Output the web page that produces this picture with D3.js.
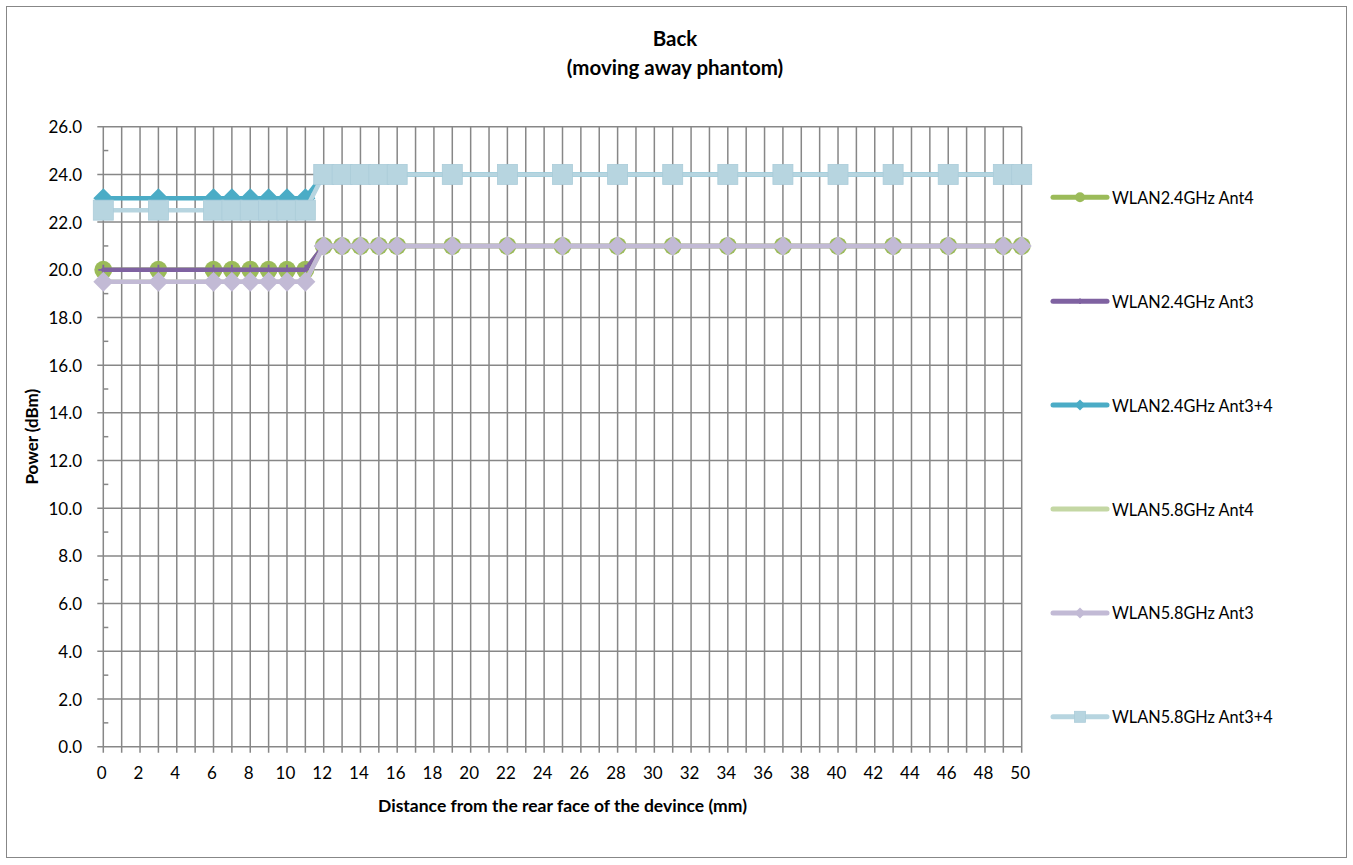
<!DOCTYPE html>
<html><head><meta charset="utf-8">
<script src="https://cdn.jsdelivr.net/npm/d3@7"></script>
<style>
body{margin:0;background:#fff}
text{font-family:Lato,'Noto Sans',sans-serif;fill:#000}
</style>
</head><body>
<svg id="c" width="1353" height="865"></svg>
<script>
// ---- data ----
const distances = [0,3,6,7,8,9,10,11,12,13,14,15,16,19,22,25,28,31,34,37,40,43,46,49,50];
const wlan24Ant4  = [20,20,20,20,20,20,20,20,21,21,21,21,21,21,21,21,21,21,21,21,21,21,21,21,21];
const wlan24Ant3  = [20,20,20,20,20,20,20,20,21,21,21,21,21,21,21,21,21,21,21,21,21,21,21,21,21];
const wlan24Ant34 = [23,23,23,23,23,23,23,23,24,24,24,24,24,24,24,24,24,24,24,24,24,24,24,24,24];
const wlan58Ant4  = [19.5,19.5,19.5,19.5,19.5,19.5,19.5,19.5,21,21,21,21,21,21,21,21,21,21,21,21,21,21,21,21,21];
const wlan58Ant3  = [19.5,19.5,19.5,19.5,19.5,19.5,19.5,19.5,21,21,21,21,21,21,21,21,21,21,21,21,21,21,21,21,21];
const wlan58Ant34 = [22.5,22.5,22.5,22.5,22.5,22.5,22.5,22.5,24,24,24,24,24,24,24,24,24,24,24,24,24,24,24,24,24];
const seriesNames = ["WLAN2.4GHz Ant4","WLAN2.4GHz Ant3","WLAN2.4GHz Ant3+4","WLAN5.8GHz Ant4","WLAN5.8GHz Ant3","WLAN5.8GHz Ant3+4"];
const xTickLabels = [0,2,4,6,8,10,12,14,16,18,20,22,24,26,28,30,32,34,36,38,40,42,44,46,48,50];
const yTickLabels = [0,2,4,6,8,10,12,14,16,18,20,22,24,26];
const titleLines = ["Back","(moving away phantom)"];
const xTitle = "Distance from the rear face of the devince (mm)";
const yTitle = "Power (dBm)";

// ---- styles ----
const styles = [
  {color:"#9BBB59", fill:"#9BBB59", marker:"circle"},
  {color:"#7F62A1", fill:"#7F62A1", marker:"plus"},
  {color:"#4BACC6", fill:"#4BACC6", marker:"diamond"},
  {color:"#C4D7A4", fill:"#C4D7A4", marker:"none"},
  {color:"#C2BAD5", fill:"#C2BAD5", marker:"diamond"},
  {color:"#B7D5E0", fill:"#B7D5E0", marker:"square"}
];
const allValues = [wlan24Ant4, wlan24Ant3, wlan24Ant34, wlan58Ant4, wlan58Ant3, wlan58Ant34];
const series = seriesNames.map((n,i)=>({name:n, values:allValues[i], ...styles[i]}));

const svg = d3.select("#c");
const L=103.3, R=1021.7, T=126.7, B=746.7;
const x = d3.scaleLinear().domain([0,50]).range([L,R]);
const y = d3.scaleLinear().domain([0,26]).range([B,T]);
const grid = "#878787";

// chart border
svg.append("rect").attr("x",6.5).attr("y",6.5).attr("width",1340).attr("height",851)
  .attr("fill","#fff").attr("stroke","#878787").attr("stroke-width",1);

// gridlines
const gx = svg.append("g");
gx.selectAll("line.v").data(d3.range(0,51)).join("line")
  .attr("x1",d=>x(d)).attr("x2",d=>x(d)).attr("y1",T).attr("y2",B+6)
  .attr("stroke",grid).attr("stroke-width",1.5);
gx.selectAll("line.h").data(yTickLabels).join("line").attr("class","h")
  .attr("x1",L-6).attr("x2",R).attr("y1",d=>y(d)).attr("y2",d=>y(d))
  .attr("stroke",grid).attr("stroke-width",1.5);
gx.selectAll("line.m").data(d3.range(1,26,2)).join("line").attr("class","m")
  .attr("x1",L).attr("x2",L+5).attr("y1",d=>y(d)).attr("y2",d=>y(d))
  .attr("stroke",grid).attr("stroke-width",1.5);

// axis labels
svg.append("g").selectAll("text").data(yTickLabels).join("text")
  .attr("x",82).attr("y",d=>y(d)).attr("text-anchor","end").attr("dominant-baseline","central")
  .style("font-size","17px").text(d=>d.toFixed(1));
svg.append("g").selectAll("text").data(xTickLabels).join("text")
  .attr("x",d=>x(d)-1.5).attr("y",772).attr("text-anchor","middle").attr("dominant-baseline","central")
  .style("font-size","17px").text(d=>d);

// titles
svg.append("g").selectAll("text").data(titleLines).join("text")
  .attr("x",675).attr("y",(d,i)=>38+i*28.7).attr("text-anchor","middle").attr("dominant-baseline","central")
  .style("font-size","20.5px").style("font-weight","bold").text(d=>d);
svg.append("text").attr("x",(L+R)/2).attr("y",805).attr("text-anchor","middle").attr("dominant-baseline","central")
  .style("font-size","17.5px").style("font-weight","bold").text(xTitle);
svg.append("text").attr("transform",`translate(31,${(T+B)/2}) rotate(-90)`).attr("text-anchor","middle")
  .attr("dominant-baseline","central").style("font-size","17px").style("font-weight","bold").text(yTitle);

function drawMarker(g, s, cx, cy, scale){
  const k = scale||1;
  if(s.marker==="circle"){
    g.append("circle").attr("cx",cx).attr("cy",cy).attr("r",9*k).attr("fill",s.fill);
  } else if(s.marker==="diamond"){
    const h=10*k;
    g.append("path").attr("d",`M${cx},${cy-h}L${cx+h},${cy}L${cx},${cy+h}L${cx-h},${cy}Z`).attr("fill",s.fill);
  } else if(s.marker==="square"){
    const h=10*k;
    g.append("rect").attr("x",cx-h).attr("y",cy-h).attr("width",2*h).attr("height",2*h).attr("fill",s.fill)
      .attr("stroke","#ABCCD9").attr("stroke-width",0.8);
  } else if(s.marker==="plus"){
    const h=5*k;
    g.append("path").attr("d",`M${cx-h},${cy}H${cx+h}M${cx},${cy-h}V${cy+h}`).attr("stroke",s.color).attr("stroke-width",1.8);
  }
}

// series
const line = d3.line().x(d=>x(d[0])).y(d=>y(d[1]));
series.forEach(s=>{
  const g = svg.append("g");
  const pts = distances.map((d,i)=>[d,s.values[i]]);
  g.append("path").attr("d",line(pts)).attr("fill","none").attr("stroke",s.color)
    .attr("stroke-width",4.5).attr("stroke-linejoin","round").attr("stroke-linecap","round");
  pts.forEach(p=>drawMarker(g,s,x(p[0]),y(p[1]),1));
});

// legend
const lg = svg.append("g");
series.forEach((s,i)=>{
  const ly = 197.3 + i*103.9;
  const g = lg.append("g");
  g.append("line").attr("x1",1053).attr("x2",1107).attr("y1",ly).attr("y2",ly)
    .attr("stroke",s.color).attr("stroke-width",5).attr("stroke-linecap","round");
  drawMarker(g,s,1080,ly,0.55);
  g.append("text").attr("x",1112).attr("y",ly).attr("dominant-baseline","central")
    .style("font-size","16.3px").text(s.name);
});
</script>
</body></html>
